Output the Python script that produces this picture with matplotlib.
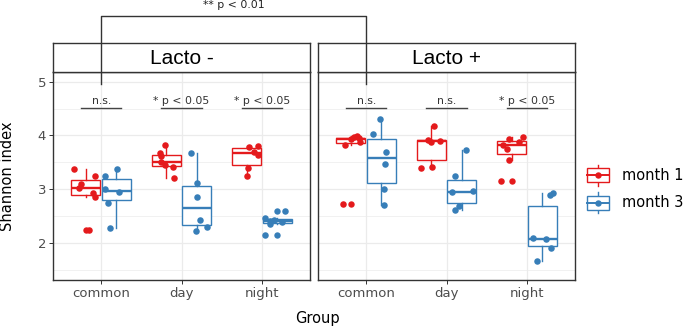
import numpy as np
import matplotlib
matplotlib.use("Agg")
import matplotlib.pyplot as plt
from matplotlib.lines import Line2D
from matplotlib.patches import Rectangle

groups = ["common", "day", "night"]
panels = ["Lacto -", "Lacto +"]
months = ["month 1", "month 3"]

# Shannon index per group (common, day, night)
neg_month1 = [[2.24, 2.86, 2.93, 3.03, 3.10, 3.24, 3.37],
              [3.21, 3.41, 3.45, 3.50, 3.62, 3.67, 3.83],
              [3.24, 3.39, 3.63, 3.70, 3.78, 3.80]]
neg_month3 = [[2.28, 2.75, 2.95, 3.00, 3.24, 3.38],
              [2.22, 2.30, 2.43, 2.86, 3.12, 3.68],
              [2.14, 2.36, 2.39, 2.41, 2.42, 2.46, 2.59]]
pos_month1 = [[2.72, 3.82, 3.88, 3.93, 3.95, 3.97, 3.99],
              [3.40, 3.42, 3.88, 3.90, 3.92, 4.17],
              [3.15, 3.55, 3.75, 3.82, 3.88, 3.93, 3.97]]
pos_month3 = [[2.70, 3.01, 3.46, 3.69, 4.02, 4.30],
              [2.61, 2.68, 2.94, 2.97, 3.24, 3.73],
              [1.67, 1.90, 2.07, 2.09, 2.89, 2.92]]

neg_sig = ["n.s.", "* p < 0.05", "* p < 0.05"]
pos_sig = ["n.s.", "n.s.", "* p < 0.05"]
between_sig = "** p < 0.01"

colors = ["#E41A1C", "#377EB8"]
W, H = 685, 327
rng = np.random.default_rng(7)


def fx(px):
    return px / W


def fy(py):
    return 1 - py / H


def draw_panel(ax, m1, m3, sig, first):
    x = np.arange(1, len(groups) + 1)
    for vals, col, off in [(m1, colors[0], -0.19), (m3, colors[1], 0.19)]:
        ax.boxplot(vals, positions=x + off, widths=0.36, patch_artist=True,
                   boxprops=dict(facecolor="white", edgecolor=col, linewidth=1.0),
                   whiskerprops=dict(color=col, linewidth=1.0),
                   capprops=dict(linewidth=0),
                   medianprops=dict(color=col, linewidth=1.7),
                   flierprops=dict(marker="o", markerfacecolor=col, markeredgecolor=col,
                                   markersize=4.6, markeredgewidth=0),
                   zorder=2)
        for i, v in enumerate(vals):
            jit = rng.uniform(-0.15, 0.15, len(v))
            ax.scatter(x[i] + off + jit, v, s=22, color=col, zorder=3, linewidths=0)
    for i, s in enumerate(sig):
        ax.plot([x[i] - 0.25, x[i] + 0.25], [4.51, 4.51], color="#444444", lw=1.0, zorder=3)
        ax.text(x[i], 4.55, s, ha="center", va="bottom", fontsize=7.8, color="#333333")
    ax.set_xlim(0.4, 3.6)
    ax.set_ylim(1.31, 5.18)
    ax.set_xticks(x)
    ax.set_xticklabels(groups, fontsize=9.5, color="#4D4D4D")
    ax.set_yticks([2, 3, 4, 5])
    ax.set_yticks([1.5, 2.5, 3.5, 4.5], minor=True)
    ax.grid(True, which="major", color="#EBEBEB", lw=0.9)
    ax.grid(True, which="minor", axis="y", color="#EBEBEB", lw=0.5)
    ax.set_axisbelow(True)
    ax.tick_params(which="minor", length=0)
    ax.tick_params(which="major", length=3, color="#333333", width=0.7, pad=2)
    if first:
        ax.set_yticklabels(["2", "3", "4", "5"], fontsize=9.5, color="#4D4D4D")
    else:
        ax.tick_params(axis="y", length=0, labelleft=False)
    for sp in ax.spines.values():
        sp.set_color("#333333")
        sp.set_linewidth(1.0)


fig = plt.figure(figsize=(W / 100, H / 100), dpi=100)

lefts = [53, 318]
axes = []
for j, (panel, m1, m3, sig) in enumerate([(panels[0], neg_month1, neg_month3, neg_sig),
                                          (panels[1], pos_month1, pos_month3, pos_sig)]):
    ax = fig.add_axes([fx(lefts[j]), fy(280), fx(257), (280 - 72) / H])
    draw_panel(ax, m1, m3, sig, j == 0)
    axes.append(ax)
    strip = fig.add_axes([fx(lefts[j]), fy(72), fx(257), (72 - 43) / H])
    strip.set_xticks([])
    strip.set_yticks([])
    for sp in strip.spines.values():
        sp.set_color("#333333")
        sp.set_linewidth(1.0)
    strip.text(0.5, 0.45, panel, ha="center", va="center", fontsize=15,
               family="Liberation Sans", transform=strip.transAxes)

fig.text(fx(8), fy(176), "Shannon index", rotation=90, ha="center", va="center",
         fontsize=10.5)
fig.text(fx(317), fy(318), "Group", ha="center", va="center", fontsize=10.5)

# bracket between the two "common" groups
inv = fig.transFigure.inverted()
p_left = inv.transform(axes[0].transData.transform((1, 4.95)))
p_right = inv.transform(axes[1].transData.transform((1, 4.95)))
top = fy(15.5)
fig.add_artist(Line2D([p_left[0], p_left[0], p_right[0], p_right[0]],
                      [p_left[1], top, top, p_right[1]],
                      transform=fig.transFigure, color="#333333", lw=1.0))
fig.text((p_left[0] + p_right[0]) / 2, fy(5), between_sig, ha="center", va="center",
         fontsize=7.8, color="#222222")

# legend
leg = fig.add_axes([fx(580), fy(215), fx(105), 55 / H])
leg.set_xlim(580, 685)
leg.set_ylim(215, 160)
leg.axis("off")
for col, lab, yc in zip(colors, months, [175, 202.5]):
    leg.add_patch(Rectangle((587.5, yc - 7), 22, 14, facecolor="white", edgecolor=col, lw=1.0))
    leg.plot([598.5, 598.5], [yc - 10.5, yc + 10.5], color=col, lw=1.0, zorder=0)
    leg.plot([587.5, 609.5], [yc, yc], color=col, lw=1.4)
    leg.plot([598.5], [yc], "o", color=col, markersize=4.6, markeredgewidth=0)
    leg.text(622, yc, lab, ha="left", va="center", fontsize=10.5)

fig.savefig("out.png", dpi=100)
